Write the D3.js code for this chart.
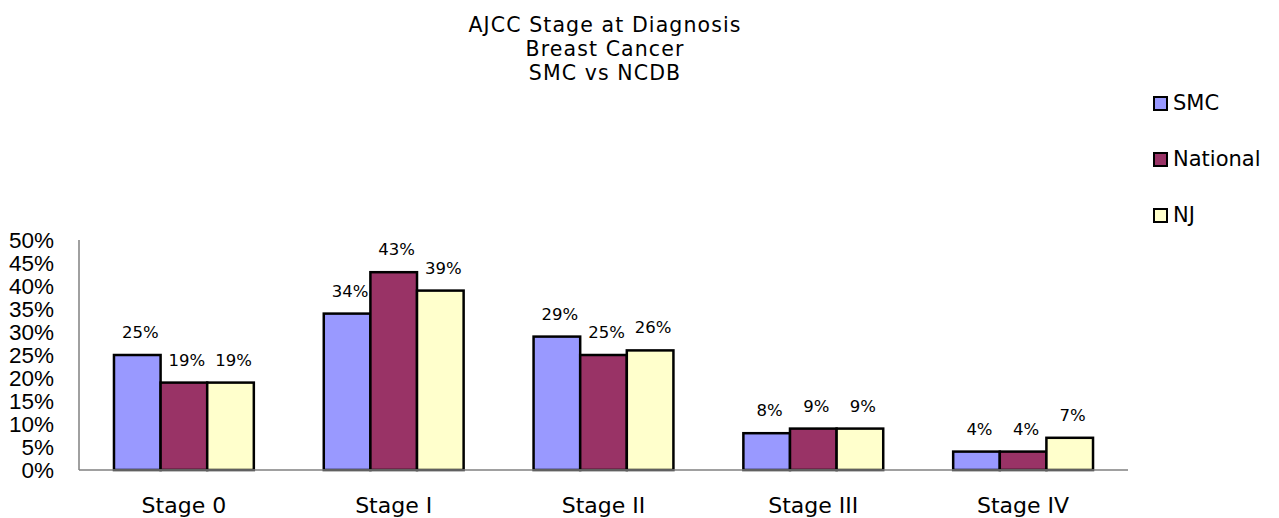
<!DOCTYPE html>
<html>
<head>
<meta charset="utf-8">
<script src="https://cdn.jsdelivr.net/npm/d3@7"></script>
<style>
  body { margin: 0; background: #fff; }
</style>
</head>
<body>
<div id="container"></div>
<script>
const stages = ["Stage 0", "Stage I", "Stage II", "Stage III", "Stage IV"]
const seriesNames = ["SMC", "National", "NJ"]
const smc = [25, 34, 29, 8, 4]
const national = [19, 43, 25, 9, 4]
const nj = [19, 39, 26, 9, 7]
const yTicks = [0, 5, 10, 15, 20, 25, 30, 35, 40, 45, 50]
const titleLines = ["AJCC Stage at Diagnosis", "Breast Cancer", "SMC vs NCDB"]

const colors = ["#9999ff", "#993366", "#ffffcc"]
const seriesValues = [smc, national, nj]

const width = 1279, height = 518
const plot = { left: 79, right: 1128, top: 240, bottom: 470 }

const svg = d3.select("#container").append("svg")
    .attr("width", width).attr("height", height)

// title
svg.append("g").selectAll("text")
    .data(titleLines)
    .enter().append("text")
    .attr("x", 605)
    .attr("y", (d, i) => 32 + i * 24)
    .attr("text-anchor", "middle")
    .attr("font-family", "DejaVu Sans")
    .attr("font-size", 20.5)
    .attr("letter-spacing", 1.1)
    .text(d => d)

const x0 = d3.scaleBand().domain(stages).range([plot.left, plot.right]).paddingInner(0.3334).paddingOuter(0.1667)
const x1 = d3.scaleBand().domain(seriesNames).range([0, x0.bandwidth()])
const y = d3.scaleLinear().domain([0, 50]).range([plot.bottom, plot.top])

// y tick labels (no tick marks)
svg.append("g").selectAll("text")
    .data(yTicks)
    .enter().append("text")
    .attr("x", 54)
    .attr("y", d => y(d) + 8)
    .attr("text-anchor", "end")
    .attr("font-family", "Liberation Sans")
    .attr("font-size", 22.5)
    .text(d => d + "%")

// bars
const groups = svg.append("g").selectAll("g")
    .data(stages)
    .enter().append("g")
    .attr("transform", d => `translate(${x0(d)},0)`)

groups.selectAll("rect")
    .data((d, i) => seriesNames.map((s, j) => ({ s: s, v: seriesValues[j][i], c: colors[j] })))
    .enter().append("rect")
    .attr("x", d => x1(d.s))
    .attr("y", d => y(d.v))
    .attr("width", x1.bandwidth())
    .attr("height", d => y(0) - y(d.v))
    .attr("fill", d => d.c)
    .attr("stroke", "#000")
    .attr("stroke-width", 2.5)

groups.selectAll("text")
    .data((d, i) => seriesNames.map((s, j) => ({ s: s, v: seriesValues[j][i] })))
    .enter().append("text")
    .attr("x", d => x1(d.s) + x1.bandwidth() / 2 + 3)
    .attr("y", d => y(d.v) - 17)
    .attr("text-anchor", "middle")
    .attr("font-family", "DejaVu Sans")
    .attr("font-size", 16.5)
    .text(d => d.v + "%")

// axes lines
svg.append("line")
    .attr("x1", plot.left).attr("x2", plot.left)
    .attr("y1", plot.top).attr("y2", plot.bottom)
    .attr("stroke", "#808080").attr("stroke-width", 1.5)
svg.append("line")
    .attr("x1", plot.left).attr("x2", plot.right)
    .attr("y1", plot.bottom).attr("y2", plot.bottom)
    .attr("stroke", "#808080").attr("stroke-width", 1.5)

// category labels
svg.append("g").selectAll("text")
    .data(stages)
    .enter().append("text")
    .attr("x", d => x0(d) + x0.bandwidth() / 2)
    .attr("y", 513)
    .attr("text-anchor", "middle")
    .attr("font-family", "DejaVu Sans")
    .attr("font-size", 22)
    .text(d => d)

// legend
const legend = svg.append("g").selectAll("g")
    .data(seriesNames)
    .enter().append("g")
    .attr("transform", (d, i) => `translate(1154,${97 + i * 56})`)
legend.append("rect")
    .attr("width", 13).attr("height", 13)
    .attr("fill", (d, i) => colors[i])
    .attr("stroke", "#000").attr("stroke-width", 2)
legend.append("text")
    .attr("x", 19).attr("y", 13)
    .attr("font-family", "DejaVu Sans")
    .attr("font-size", 21)
    .text(d => d)
</script>
</body>
</html>
